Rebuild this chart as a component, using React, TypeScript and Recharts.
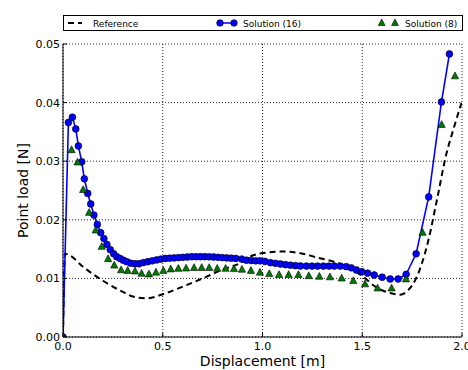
import React from 'react';
import { ComposedChart, Line, XAxis, YAxis, CartesianGrid } from 'recharts';

// Displacement [m] and point load [N] for each curve
const referenceDisp = [
  0, 0.01, 0.03, 0.1, 0.2, 0.3, 0.35, 0.42, 0.5, 0.6, 0.7, 0.8, 0.9, 0.95, 1.02, 1.1, 1.19,
  1.27, 1.36, 1.44, 1.5, 1.57, 1.64, 1.69, 1.73, 1.77, 1.83, 1.875, 1.92, 1.96, 2.0,
];
const referenceLoad = [
  0, 0.0142, 0.014, 0.012, 0.0096, 0.0077, 0.0069, 0.0066, 0.0073, 0.0086, 0.01, 0.0115, 0.0128,
  0.0139, 0.0144, 0.0146, 0.0143, 0.0136, 0.0128, 0.0117, 0.0104, 0.0085, 0.0075, 0.0072, 0.008,
  0.01, 0.0163, 0.0235, 0.031, 0.0358, 0.0402,
];

const sol16Disp = [
  0, 0.027, 0.047, 0.064, 0.077, 0.094, 0.107, 0.124, 0.139, 0.155, 0.172, 0.189, 0.205, 0.22,
  0.237, 0.254, 0.269, 0.286, 0.302, 0.319, 0.339, 0.361, 0.381, 0.403, 0.425, 0.447, 0.469,
  0.491, 0.513, 0.535, 0.557, 0.579, 0.601, 0.623, 0.645, 0.667, 0.689, 0.711, 0.733, 0.755,
  0.777, 0.799, 0.821, 0.843, 0.866, 0.896, 0.92, 0.944, 0.966, 0.987, 1.012, 1.04, 1.065, 1.09,
  1.115, 1.14, 1.165, 1.19, 1.22, 1.248, 1.276, 1.305, 1.333, 1.36, 1.39, 1.42, 1.445, 1.47,
  1.497, 1.527, 1.56, 1.6, 1.64, 1.68, 1.72, 1.77, 1.833, 1.897, 1.937,
];
const sol16Load = [
  0, 0.0366, 0.0375, 0.0355, 0.0326, 0.0299, 0.027, 0.0245, 0.0227, 0.0208, 0.0192, 0.0178,
  0.0168, 0.0158, 0.0149, 0.0142, 0.0137, 0.0134, 0.0131, 0.01285, 0.0126, 0.0125, 0.0125,
  0.0127, 0.01285, 0.013, 0.01315, 0.0133, 0.0134, 0.01345, 0.0135, 0.01355, 0.0136, 0.01365,
  0.0137, 0.0137, 0.0137, 0.0137, 0.01368, 0.01365, 0.0136, 0.01355, 0.0135, 0.01345, 0.0134,
  0.0133, 0.0131, 0.01305, 0.013, 0.013, 0.0129, 0.01268, 0.01257, 0.01246, 0.01235, 0.01225,
  0.01218, 0.01212, 0.0121, 0.0121, 0.0121, 0.0121, 0.0121, 0.0121, 0.0121, 0.012, 0.0118,
  0.01145, 0.01115, 0.0109, 0.01058, 0.0102, 0.0099, 0.0099, 0.0107, 0.0142, 0.0239, 0.0401,
  0.0483,
];

const sol8Disp = [
  0, 0.043, 0.073, 0.101, 0.131, 0.164, 0.194, 0.226, 0.257, 0.291, 0.324, 0.361, 0.394, 0.431,
  0.466, 0.503, 0.54, 0.578, 0.617, 0.657, 0.695, 0.733, 0.773, 0.815, 0.857, 0.897, 0.942,
  0.987, 1.034, 1.083, 1.131, 1.18, 1.232, 1.285, 1.338, 1.397, 1.455, 1.514, 1.577, 1.647,
  1.719, 1.802, 1.898, 1.965,
];
const sol8Load = [
  0, 0.0319, 0.0298, 0.0251, 0.0212, 0.0182, 0.0154, 0.0133, 0.0122, 0.0114, 0.0113, 0.0112,
  0.0108, 0.0107, 0.011, 0.0113, 0.01155, 0.01166, 0.0117, 0.0118, 0.0118, 0.0118, 0.01166,
  0.01166, 0.0116, 0.0115, 0.0113, 0.011, 0.01075, 0.0106, 0.0106, 0.0106, 0.0104, 0.0103,
  0.0102, 0.01, 0.00956, 0.009, 0.0083, 0.0083, 0.00985, 0.0178, 0.0362, 0.0445,
];

const xTicks = [0, 0.5, 1.0, 1.5, 2.0];
const yTicks = [0, 0.01, 0.02, 0.03, 0.04, 0.05];

const toPoints = (xs: number[], ys: number[]) => xs.map((x, i) => ({ x, y: ys[i] }));
const referenceData = toPoints(referenceDisp, referenceLoad);
const sol16Data = toPoints(sol16Disp, sol16Load);
const sol8Data = toPoints(sol8Disp, sol8Load);

const FONT = 'DejaVu Sans';
const BLUE = '#0000ff';
const GREEN = '#007a00';

// matplotlib-style ticks: pointing into the plot
const BottomTick = ({ x, y, payload }: any) => (
  <g>
    <line x1={x} x2={x} y1={y} y2={y - 4} stroke="#000" />
    <text x={x} y={y + 13} textAnchor="middle" fontSize={11} fontFamily={FONT} fill="#000">
      {Number(payload.value).toFixed(1)}
    </text>
  </g>
);
const TopTick = ({ x, y }: any) => <line x1={x} x2={x} y1={y} y2={y + 4} stroke="#000" />;
const LeftTick = ({ x, y, payload }: any) => (
  <g>
    <line x1={x} x2={x + 4} y1={y} y2={y} stroke="#000" />
    <text x={x - 3} y={y + 4} textAnchor="end" fontSize={11} fontFamily={FONT} fill="#000">
      {Number(payload.value).toFixed(2)}
    </text>
  </g>
);
const RightTick = ({ x, y }: any) => <line x1={x} x2={x - 4} y1={y} y2={y} stroke="#000" />;

const Triangle = (props: any) => {
  const { cx, cy, index } = props;
  if (cx == null || cy == null) return <g key={index} />;
  return (
    <polygon
      key={index}
      points={`${cx},${cy - 4.2} ${cx - 3.6},${cy + 2.6} ${cx + 3.6},${cy + 2.6}`}
      fill={GREEN}
      stroke="#000"
      strokeWidth={0.6}
    />
  );
};

const YLabel = ({ viewBox }: any) => {
  const cx = 23;
  const cy = viewBox.y + viewBox.height / 2;
  return (
    <text
      x={cx}
      y={cy}
      transform={`rotate(-90 ${cx} ${cy})`}
      textAnchor="middle"
      dominantBaseline="central"
      fontSize={14}
      fontFamily={FONT}
      fill="#000"
    >
      Point load [N]
    </text>
  );
};

function LegendBox() {
  return (
    <svg width={400} height={16} style={{ position: 'absolute', left: 63, top: 15 }}>
      <rect x={0.5} y={0.5} width={399} height={15} fill="#fff" stroke="#000" />
      <line x1={5} x2={19} y1={8} y2={8} stroke="#000" strokeWidth={2} strokeDasharray="6 4" />
      <text x={30} y={11.5} fontSize={9} fontFamily={FONT}>Reference</text>
      <line x1={157} x2={171} y1={8} y2={8} stroke={BLUE} strokeWidth={1.5} />
      <circle cx={157} cy={8} r={3.3} fill={BLUE} stroke="#000" strokeWidth={0.6} />
      <circle cx={171} cy={8} r={3.3} fill={BLUE} stroke="#000" strokeWidth={0.6} />
      <text x={180} y={11.5} fontSize={9} fontFamily={FONT}>Solution (16)</text>
      <polygon points="318.7,4 315.3,10.5 322.1,10.5" fill={GREEN} stroke="#000" strokeWidth={0.6} />
      <polygon points="332,4 328.6,10.5 335.4,10.5" fill={GREEN} stroke="#000" strokeWidth={0.6} />
      <text x={342} y={11.5} fontSize={9} fontFamily={FONT}>Solution (8)</text>
    </svg>
  );
}

export default function App() {
  return (
    <div style={{ position: 'absolute', left: 0, top: 0, width: 468, height: 370, background: '#fff' }}>
      <ComposedChart width={468} height={370} margin={{ top: 44, right: 6, bottom: 0, left: 0 }}>
        <CartesianGrid xAxisId="b" yAxisId="l" stroke="#222" strokeDasharray="1 2" />
        <XAxis
          xAxisId="b"
          type="number"
          dataKey="x"
          domain={[0, 2]}
          ticks={xTicks}
          height={33}
          tickSize={0}
          tickMargin={0}
          tickLine={false}
          axisLine={{ stroke: '#000' }}
          tick={<BottomTick />}
          interval={0}
          allowDataOverflow
          label={{ value: 'Displacement [m]', position: 'insideBottom', offset: 4, fontSize: 14, fontFamily: FONT, fill: '#000' }}
        />
        <XAxis
          xAxisId="t"
          orientation="top"
          type="number"
          dataKey="x"
          domain={[0, 2]}
          ticks={xTicks}
          height={0}
          tickSize={0}
          tickMargin={0}
          tickLine={false}
          axisLine={{ stroke: '#000' }}
          tick={<TopTick />}
          interval={0}
          allowDataOverflow
        />
        <YAxis
          yAxisId="l"
          type="number"
          domain={[0, 0.05]}
          ticks={yTicks}
          width={63}
          tickSize={0}
          tickMargin={0}
          tickLine={false}
          axisLine={{ stroke: '#000' }}
          tick={<LeftTick />}
          interval={0}
          allowDataOverflow
          label={YLabel}
        />
        <YAxis
          yAxisId="r"
          orientation="right"
          type="number"
          domain={[0, 0.05]}
          ticks={yTicks}
          width={0}
          tickSize={0}
          tickMargin={0}
          tickLine={false}
          axisLine={{ stroke: '#000' }}
          tick={<RightTick />}
          interval={0}
          allowDataOverflow
        />
        <Line
          xAxisId="b"
          yAxisId="l"
          data={referenceData}
          dataKey="y"
          type="monotone"
          stroke="#000"
          strokeWidth={2}
          strokeDasharray="6 4"
          dot={false}
          isAnimationActive={false}
        />
        <Line
          xAxisId="b"
          yAxisId="l"
          data={sol16Data}
          dataKey="y"
          type="linear"
          stroke={BLUE}
          strokeWidth={1.6}
          dot={{ r: 3.4, fill: BLUE, stroke: '#000', strokeWidth: 0.6 }}
          isAnimationActive={false}
        />
        <Line
          xAxisId="b"
          yAxisId="l"
          data={sol8Data}
          dataKey="y"
          type="linear"
          stroke="none"
          dot={Triangle}
          isAnimationActive={false}
        />
      </ComposedChart>
      <LegendBox />
    </div>
  );
}
